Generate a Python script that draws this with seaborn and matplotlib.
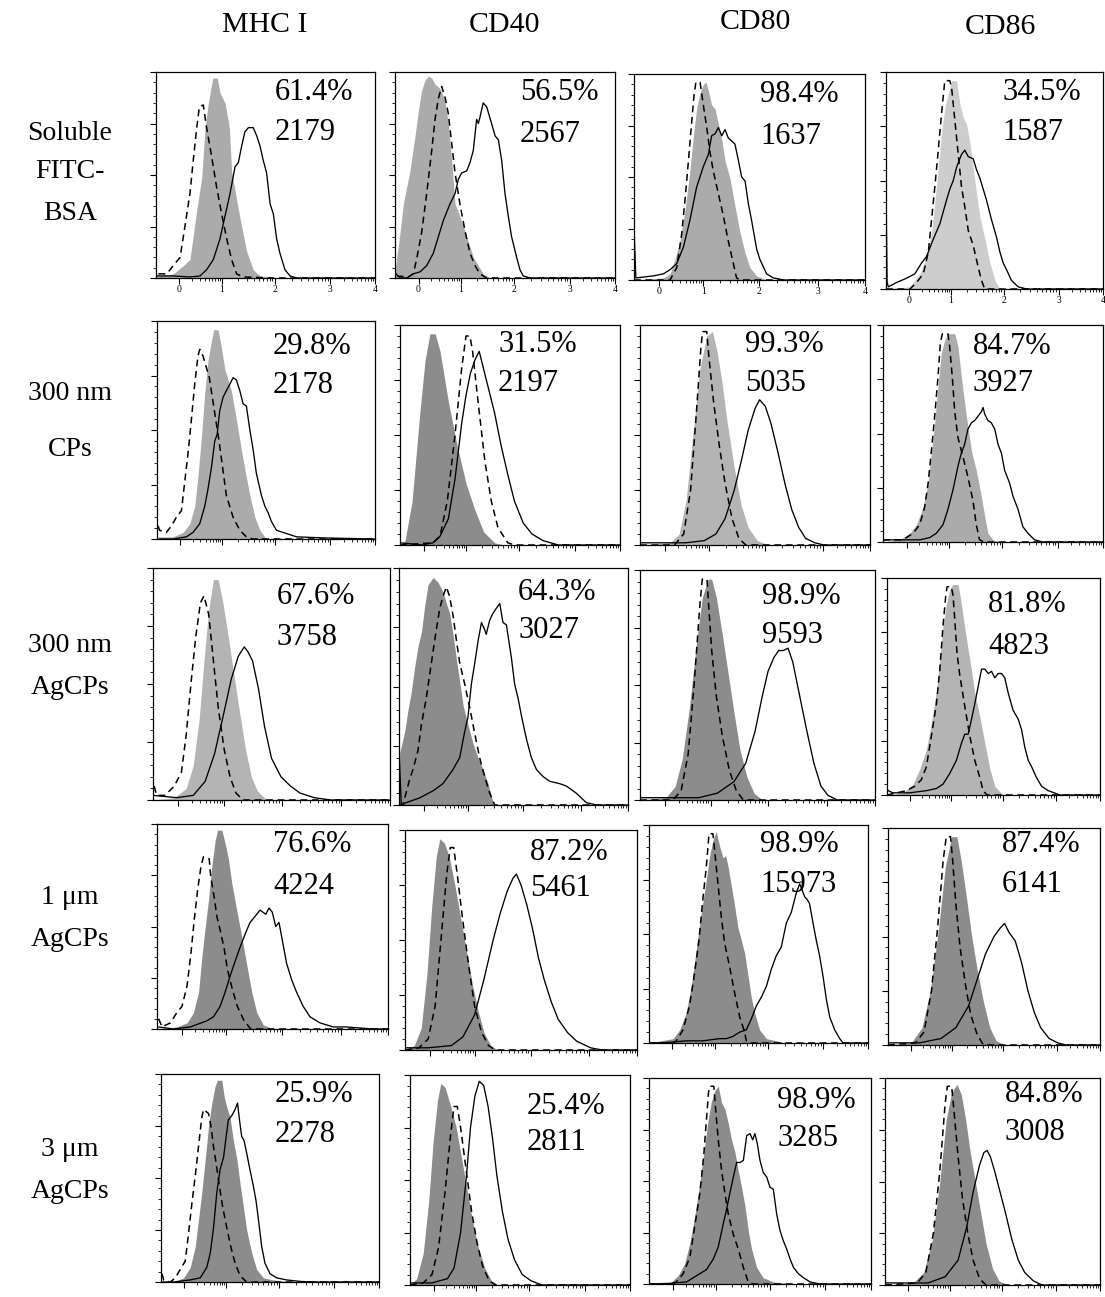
import numpy as np
import matplotlib
matplotlib.use("Agg")
import matplotlib.pyplot as plt
import seaborn as sns

sns.set_style("ticks")
plt.rcParams['font.family'] = ['Liberation Serif', 'DejaVu Serif']
plt.rcParams['text.color'] = 'black'

# ---------------- labels ----------------
markers = ["MHC I", "CD40", "CD80", "CD86"]
groups = [["Soluble", "FITC-", "BSA"], ["300 nm", "CPs"], ["300 nm", "AgCPs"],
          ["1 μm", "AgCPs"], ["3 μm", "AgCPs"]]
pct = [[61.4, 56.5, 98.4, 34.5],
       [29.8, 31.5, 99.3, 84.7],
       [67.6, 64.3, 98.9, 81.8],
       [76.6, 87.2, 98.9, 87.4],
       [25.9, 25.4, 98.9, 84.8]]
mfi = [[2179, 2567, 1637, 1587],
       [2178, 2197, 5035, 3927],
       [3758, 3027, 9593, 4823],
       [4224, 5461, 15973, 6141],
       [2278, 2811, 3285, 3008]]

# ---------------- histogram data: (channel 0-1000, % of max) ----------------
# fill = grey filled histogram, dash = dashed histogram, line = solid histogram
R1C1_fill = [(0,1),(18,1),(79,2),(125,6),(155,9),(186,33),(209,49),(224,73),(239,85),(259,97),(280,97),(292,90),(315,85),(335,73),(345,52),(368,38),(391,25),(414,13),(444,4),(475,1),(536,0),(1000,0)]
R1C1_dash = [(11,2),(49,2),(79,6),(110,10),(132,25),(155,41),(170,57),(186,73),(198,83),(216,84),(231,73),(254,59),(277,44),(300,31),(323,19),(345,9),(368,2),(399,0.5),(536,0),(1000,0)]
R1C1_line = [(0,4),(3,1),(79,1),(155,0.5),(201,1),(231,4),(262,9),(292,19),(315,30),(338,41),(361,54),(376,56),(391,64),(406,71),(422,73),(444,73),(460,69),(475,64),(490,57),(505,51),(521,36),(536,31),(551,19),(566,12),(589,4),(612,1),(642,0),(1000,0)]

R1C2_fill = [(0,2),(10,12),(15,15),(38,36),(68,52),(91,69),(106,81),(121,91),(136,96),(152,98),(167,97),(182,94),(205,92),(227,86),(242,75),(258,57),(273,36),(295,30),(326,20),(356,10),(379,6),(401,2),(432,0),(1000,0)]
R1C2_dash = [(8,1),(60,0.5),(83,2),(98,9),(121,22),(144,41),(167,62),(182,77),(197,87),(212,93),(227,88),(242,80),(258,65),(273,51),(295,36),(318,23),(341,12),(364,6),(386,2),(417,0),(1000,0)]
R1C2_line = [(0,3),(5,2),(23,0),(53,0),(83,2),(114,3),(144,6),(174,12),(197,20),(220,28),(250,36),(273,41),(288,48),(303,51),(326,52),(341,56),(356,62),(371,77),(379,75),(386,78),(401,85),(417,83),(439,75),(455,69),(470,67),(485,57),(500,41),(515,30),(530,20),(553,10),(568,4),(583,1),(614,0),(1000,0)]

R1C3_fill = [(0,0),(127,1),(156,3),(177,10),(199,19),(221,34),(242,53),(257,70),(271,83),(286,91),(300,95),(312,96),(322,92),(336,85),(351,83),(365,76),(380,68),(394,58),(416,49),(437,36),(459,23),(481,13),(502,6),(531,2),(574,0),(1000,0)]
R1C3_dash = [(0,0),(156,0),(185,6),(206,22),(221,39),(235,57),(250,77),(260,90),(268,96),(286,96),(300,85),(315,74),(329,62),(343,53),(365,42),(387,31),(408,19),(430,8),(444,1),(460,0),(1000,0)]
R1C3_line = [(0,26),(8,1),(84,2),(127,3),(156,5),(185,8),(214,16),(242,29),(271,45),(300,55),(322,61),(336,70),(351,71),(365,74),(380,70),(394,73),(408,69),(437,66),(452,58),(466,50),(481,48),(495,37),(509,29),(531,15),(545,10),(574,3),(603,1),(650,0),(1000,0)]

R1C4_fill = [(0,0),(110,1),(156,7),(187,15),(210,26),(225,40),(241,56),(256,72),(272,84),(287,90),(302,96),(325,96),(341,85),(356,79),(371,76),(387,67),(402,56),(417,44),(433,33),(456,23),(479,12),(502,4),(525,0),(1000,0)]
R1C4_dash = [(0,0),(110,0),(141,3),(172,7),(195,17),(210,32),(225,47),(241,64),(256,81),(271,96),(294,96),(302,93),(317,78),(333,62),(348,47),(363,38),(379,27),(402,20),(425,10),(440,4),(455,0),(1000,0)]
R1C4_line = [(0,47),(5,3),(11,1),(49,3),(95,5),(133,7),(164,12),(187,15),(218,23),(248,30),(279,41),(294,46),(310,50),(325,56),(340,60),(348,62),(363,64),(379,61),(402,60),(417,55),(433,51),(448,46),(463,41),(486,32),(509,24),(525,17),(540,12),(555,9),(578,4),(609,1),(647,0),(1000,0)]

R2C1_fill = [(0,1),(73,1),(119,3),(150,7),(173,15),(188,29),(204,47),(219,67),(234,82),(250,91),(260,96),(280,96),(295,88),(311,78),(326,73),(341,68),(357,59),(372,50),(387,41),(403,32),(426,20),(449,10),(472,4),(502,0),(1000,0)]
R2C1_dash = [(5,6),(12,4),(43,3),(66,6),(89,10),(112,13),(127,26),(142,39),(158,55),(173,71),(188,84),(196,87),(211,84),(240,74),(263,59),(286,44),(302,32),(318,20),(349,10),(380,4),(410,1),(440,0),(1000,0)]
R2C1_line = [(12,0),(73,0),(135,1),(165,3),(196,7),(219,15),(234,23),(250,33),(265,45),(276,48),(288,59),(303,65),(318,68),(334,71),(349,74),(364,73),(380,68),(395,62),(410,61),(426,50),(441,41),(456,30),(479,20),(495,15),(510,12),(525,8),(548,4),(579,3),(640,1),(762,0.5),(1000,0)]

R2C2_fill = [(0,0),(23,2),(55,20),(90,60),(114,84),(136,96),(160,96),(182,88),(220,65),(260,45),(300,28),(340,16),(380,6),(430,1),(470,0),(1000,0)]
R2C2_dash = [(0,0),(150,1),(182,4),(215,20),(250,50),(280,80),(300,95),(318,95),(330,88),(355,65),(386,38),(415,20),(445,8),(490,1),(520,0),(1000,0)]
R2C2_line = [(0,1),(100,0),(150,1),(182,4),(220,12),(250,30),(280,55),(300,68),(320,78),(340,84),(360,88),(380,80),(400,72),(430,60),(460,45),(490,32),(520,20),(560,10),(600,5),(650,2),(720,0),(1000,0)]

R2C3_fill = [(0,0),(130,1),(170,5),(200,20),(230,50),(260,80),(290,95),(315,97),(335,88),(355,75),(380,55),(410,35),(440,18),(470,8),(510,2),(560,0),(1000,0)]
R2C3_dash = [(0,0),(150,0),(190,5),(220,25),(245,60),(265,90),(272,97),(290,97),(300,85),(320,65),(345,45),(370,28),(400,12),(430,3),(460,0),(1000,0)]
R2C3_line = [(0,1),(200,1),(280,2),(330,5),(370,12),(410,25),(440,38),(470,52),(500,62),(520,66),(545,63),(570,55),(600,42),(630,28),(660,16),(690,8),(720,3),(760,1),(800,0),(1000,0)]

R2C4_fill = [(0,0),(76,1),(121,4),(152,8),(182,16),(205,27),(220,41),(235,55),(250,72),(265,87),(280,93),(295,96),(326,96),(341,90),(356,76),(379,58),(402,42),(424,33),(447,21),(462,12),(477,4),(500,1),(530,0),(1000,0)]
R2C4_dash = [(0,1),(91,1),(136,4),(167,8),(189,16),(205,27),(220,42),(235,58),(250,76),(261,92),(270,96),(295,96),(303,90),(315,76),(326,60),(341,48),(364,39),(386,30),(409,19),(424,8),(439,1),(460,0),(1000,0)]
R2C4_line = [(0,1),(167,1),(212,2),(242,4),(273,8),(295,15),(318,24),(341,35),(356,41),(371,45),(386,52),(402,55),(417,56),(432,58),(447,60),(455,62),(462,59),(477,56),(492,55),(508,52),(523,45),(538,41),(553,33),(576,27),(591,21),(614,15),(636,7),(659,4),(689,1),(727,0),(1000,0)]

R3C1_fill = [(0,0),(90,1),(140,5),(170,15),(195,35),(215,60),(235,82),(255,95),(275,95),(295,85),(315,72),(340,55),(365,38),(390,22),(415,10),(440,4),(480,0),(1000,0)]
R3C1_dash = [(5,6),(15,2),(50,2),(90,6),(120,12),(140,28),(160,50),(180,70),(200,85),(215,88),(235,80),(255,60),(275,40),(300,22),(325,10),(350,3),(380,0),(1000,0)]
R3C1_line = [(0,2),(100,1),(170,2),(220,8),(260,20),(300,38),(330,52),(360,62),(385,66),(400,64),(420,60),(445,48),(470,32),(500,18),(540,10),(580,6),(620,3),(680,1),(750,0),(1000,0)]

R3C2_fill = [(0,0),(3,22),(25,31),(39,40),(54,48),(68,58),(83,67),(98,73),(112,84),(127,93),(149,96),(170,94),(192,90),(207,85),(221,81),(236,72),(250,62),(265,52),(280,42),(301,34),(323,26),(345,20),(367,15),(389,9),(411,1),(418,0),(1000,0)]
R3C2_dash = [(0,0),(17,0),(47,11),(61,15),(83,23),(98,34),(119,45),(134,55),(149,65),(163,74),(178,83),(192,88),(207,92),(221,88),(236,80),(250,70),(265,60),(287,51),(309,41),(331,30),(352,20),(374,12),(396,5),(418,0),(1000,0)]
R3C2_line = [(0,23),(10,0),(32,1),(90,3),(149,6),(192,9),(236,15),(265,20),(287,31),(301,37),(316,51),(331,60),(345,69),(360,77),(374,74),(381,72),(396,78),(411,81),(425,83),(440,85),(454,77),(469,76),(491,62),(505,51),(520,45),(534,38),(556,28),(578,20),(600,15),(629,12),(658,10),(702,9),(731,8),(774,5),(818,1),(862,0),(1000,0)]

R3C3_fill = [(0,0),(110,1),(150,6),(180,18),(210,40),(240,68),(265,88),(290,96),(305,96),(325,88),(350,72),(375,55),(400,38),(425,22),(455,10),(485,3),(520,0),(1000,0)]
R3C3_dash = [(0,0),(140,0),(175,4),(205,20),(230,50),(255,85),(265,96),(285,96),(292,85),(305,65),(325,45),(350,28),(380,13),(410,4),(440,0),(1000,0)]
R3C3_line = [(0,1),(250,1),(330,3),(400,8),(450,16),(490,30),(520,45),(545,56),(570,62),(590,65),(610,65),(630,66),(650,60),(680,45),(710,30),(740,16),(770,6),(800,2),(840,0),(1000,0)]

R3C4_fill = [(0,0),(75,1),(122,5),(154,12),(185,21),(208,33),(232,48),(248,62),(263,78),(279,88),(295,95),(310,97),(334,97),(349,88),(365,77),(381,67),(396,58),(412,47),(436,36),(459,24),(483,12),(506,4),(545,0),(1000,0)]
R3C4_dash = [(0,0),(91,2),(130,4),(161,7),(185,13),(208,27),(232,42),(248,58),(263,78),(276,92),(282,96),(302,96),(310,92),(318,81),(329,65),(342,55),(365,41),(389,27),(412,16),(436,8),(451,2),(470,0),(1000,0)]
R3C4_line = [(0,3),(5,2),(28,1),(107,1),(185,2),(232,3),(263,5),(295,10),(326,16),(350,24),(365,28),(381,28),(397,35),(412,42),(428,50),(444,58),(459,58),(475,56),(491,57),(506,54),(522,56),(538,56),(553,54),(569,47),(592,39),(616,35),(632,30),(647,22),(663,16),(679,13),(702,8),(726,4),(757,2),(812,0),(1000,0)]

R4C1_fill = [(0,0),(86,1),(130,3),(158,8),(180,18),(194,35),(209,50),(223,63),(237,79),(252,92),(262,97),(281,97),(298,89),(309,83),(324,71),(345,58),(367,45),(389,31),(410,18),(432,8),(460,2),(504,0),(1000,0)]
R4C1_dash = [(7,5),(22,1),(58,3),(86,8),(108,11),(130,21),(147,37),(161,53),(176,68),(190,79),(201,84),(226,83),(233,74),(248,64),(259,55),(276,47),(291,39),(305,29),(327,19),(348,11),(377,4),(406,0),(1000,0)]
R4C1_line = [(7,1),(72,0),(144,1),(216,4),(245,6),(273,11),(295,18),(317,26),(341,34),(360,40),(384,47),(403,52),(425,55),(446,58),(471,56),(485,59),(499,57),(514,50),(528,52),(543,43),(561,32),(583,24),(604,18),(633,11),(662,6),(705,3),(763,1),(820,1),(935,0),(1000,0)]

R4C2_fill = [(0,0),(40,2),(70,10),(95,35),(115,65),(135,88),(150,96),(170,94),(190,88),(215,75),(240,60),(265,45),(290,30),(315,18),(340,8),(370,2),(400,0),(1000,0)]
R4C2_dash = [(0,0),(60,1),(100,5),(130,20),(155,50),(180,80),(195,92),(210,92),(225,80),(250,58),(275,38),(300,20),(330,8),(360,2),(390,0),(1000,0)]
R4C2_line = [(0,1),(100,1),(200,2),(250,6),(300,16),(340,32),(380,50),(410,62),(440,72),(465,78),(480,80),(500,75),(525,66),(550,55),(575,42),(600,32),(630,22),(660,14),(700,8),(740,4),(800,1),(850,0),(1000,0)]

R4C3_fill = [(0,0),(110,2),(140,6),(170,14),(193,26),(216,43),(239,60),(262,75),(277,86),(292,93),(307,97),(323,90),(338,85),(350,86),(361,81),(376,72),(391,63),(406,53),(422,47),(437,41),(452,31),(467,21),(482,14),(505,6),(536,2),(581,1),(620,0),(1000,0)]
R4C3_dash = [(0,0),(110,0),(125,1),(155,6),(185,17),(208,32),(228,47),(246,66),(262,81),(274,96),(292,96),(300,88),(315,73),(330,58),(345,46),(368,35),(391,23),(414,12),(437,5),(444,1),(460,0),(1000,0)]
R4C3_line = [(3,0),(94,0.3),(170,1),(246,1),(323,2),(353,2),(383,3),(414,5),(444,6),(467,11),(490,17),(513,21),(536,26),(559,34),(581,40),(604,44),(627,55),(650,60),(673,69),(688,73),(700,70),(711,67),(721,66),(733,64),(749,55),(764,47),(779,40),(794,31),(810,20),(825,12),(848,6),(871,2),(886,0),(1000,0)]

R4C4_fill = [(0,0),(110,1),(160,8),(200,25),(240,55),(270,82),(300,96),(325,96),(345,85),(370,68),(395,50),(420,35),(450,20),(480,8),(510,2),(550,0),(1000,0)]
R4C4_dash = [(0,0),(130,1),(170,6),(205,25),(235,55),(260,85),(275,96),(295,96),(305,85),(320,65),(340,45),(365,28),(390,14),(420,5),(450,0),(1000,0)]
R4C4_line = [(0,1),(150,1),(250,3),(320,8),(380,18),(420,30),(460,42),(500,50),(530,54),(550,56),(570,52),(600,48),(630,38),(660,25),(690,15),(720,8),(760,3),(800,1),(840,0),(1000,0)]

R5C1_fill = [(0,0),(58,0),(104,2),(134,7),(157,17),(172,30),(187,43),(203,59),(218,75),(233,86),(248,94),(259,97),(279,97),(290,89),(302,84),(317,79),(332,68),(348,59),(363,47),(378,36),(393,25),(416,14),(439,6),(470,2),(515,1),(591,0),(1000,0)]
R5C1_dash = [(5,4),(12,1),(43,0),(66,2),(88,6),(111,10),(126,23),(142,38),(157,51),(172,65),(187,79),(195,83),(218,81),(229,75),(241,65),(253,57),(268,46),(283,36),(302,26),(320,17),(340,9),(363,3),(393,0),(1000,0)]
R5C1_line = [(0,0),(58,0),(134,1),(180,2),(210,7),(226,14),(241,26),(256,43),(271,54),(287,60),(299,70),(309,78),(325,80),(340,83),(351,86),(360,78),(370,70),(381,68),(393,62),(408,54),(424,46),(436,39),(447,30),(462,17),(477,9),(500,4),(530,2),(576,1),(637,0.3),(698,0),(1000,0)]

R5C2_fill = [(0,0),(30,3),(60,15),(85,40),(105,68),(125,88),(140,96),(160,94),(185,85),(210,75),(235,60),(260,45),(285,30),(310,18),(340,8),(370,2),(400,0),(1000,0)]
R5C2_dash = [(0,0),(60,1),(100,5),(130,18),(160,45),(185,72),(200,85),(215,85),(230,75),(255,55),(280,35),(305,20),(330,9),(360,2),(390,0),(1000,0)]
R5C2_line = [(0,1),(100,1),(170,3),(200,8),(230,25),(255,50),(275,75),(295,90),(315,97),(335,95),(355,85),(375,70),(395,52),(420,35),(445,22),(475,12),(510,5),(550,2),(600,0),(1000,0)]

R5C3_fill = [(0,0),(93,0.3),(131,4),(161,10),(184,20),(206,33),(229,49),(251,67),(267,80),(282,89),(297,94),(312,96),(327,88),(342,85),(357,78),(372,70),(387,64),(402,55),(417,47),(432,38),(447,26),(462,17),(485,8),(515,3),(560,1),(651,0),(1000,0)]
R5C3_dash = [(0,0),(100,0),(123,1),(154,5),(184,13),(206,28),(229,44),(247,63),(259,80),(268,93),(274,96),(292,96),(300,85),(312,70),(327,55),(342,44),(357,34),(380,24),(402,17),(425,8),(447,1),(470,0),(1000,0)]
R5C3_line = [(0,0),(93,0.3),(169,1),(214,4),(259,7),(289,12),(312,18),(334,29),(349,36),(364,44),(380,52),(395,59),(410,59),(425,60),(440,72),(455,73),(467,70),(477,73),(488,68),(500,60),(515,54),(530,52),(545,47),(560,46),(575,34),(590,26),(605,21),(620,17),(636,12),(651,8),(673,5),(696,3),(726,1),(771,0),(1000,0)]

R5C4_fill = [(0,0),(130,1),(180,6),(220,22),(255,50),(285,80),(310,93),(335,97),(355,92),(375,80),(395,65),(420,50),(445,35),(470,20),(500,8),(530,2),(570,0),(1000,0)]
R5C4_dash = [(0,0),(150,1),(190,6),(225,25),(255,55),(280,88),(290,96),(310,96),(320,85),(340,62),(360,42),(385,25),(410,12),(440,3),(470,0),(1000,0)]
R5C4_line = [(0,1),(200,1),(280,4),(340,12),(380,28),(410,45),(440,58),(460,64),(475,65),(490,62),(510,55),(535,45),(560,35),(590,22),(620,12),(650,6),(690,2),(730,0),(1000,0)]

fills = [[R1C1_fill, R1C2_fill, R1C3_fill, R1C4_fill],
         [R2C1_fill, R2C2_fill, R2C3_fill, R2C4_fill],
         [R3C1_fill, R3C2_fill, R3C3_fill, R3C4_fill],
         [R4C1_fill, R4C2_fill, R4C3_fill, R4C4_fill],
         [R5C1_fill, R5C2_fill, R5C3_fill, R5C4_fill]]
dashes_ = [[R1C1_dash, R1C2_dash, R1C3_dash, R1C4_dash],
           [R2C1_dash, R2C2_dash, R2C3_dash, R2C4_dash],
           [R3C1_dash, R3C2_dash, R3C3_dash, R3C4_dash],
           [R4C1_dash, R4C2_dash, R4C3_dash, R4C4_dash],
           [R5C1_dash, R5C2_dash, R5C3_dash, R5C4_dash]]
lines_ = [[R1C1_line, R1C2_line, R1C3_line, R1C4_line],
          [R2C1_line, R2C2_line, R2C3_line, R2C4_line],
          [R3C1_line, R3C2_line, R3C3_line, R3C4_line],
          [R4C1_line, R4C2_line, R4C3_line, R4C4_line],
          [R5C1_line, R5C2_line, R5C3_line, R5C4_line]]

# ---------------- layout (pixels) ----------------
W, H = 1105, 1297
boxes = [[(156, 72, 375, 278), (395, 72, 615, 278), (634, 74, 865, 280), (886, 72, 1103, 289)],
         [(157, 321, 375, 539), (400, 325, 620, 545), (640, 325, 870, 545), (883, 325, 1103, 542)],
         [(153, 568, 390, 800), (399, 568, 628, 805), (640, 570, 875, 800), (887, 578, 1100, 795)],
         [(157, 824, 388, 1029), (405, 830, 637, 1050), (649, 825, 868, 1043), (888, 828, 1100, 1045)],
         [(161, 1074, 379, 1282), (410, 1075, 630, 1285), (649, 1078, 871, 1284), (885, 1078, 1100, 1285)]]
text_pos = [[(275, 92, 133), (520, 92, 134), (760, 95, 136), (1002, 93, 133)],
            [(273, 346, 386), (498, 345, 383), (745, 345, 383), (973, 346, 384)],
            [(277, 597, 637), (518, 592, 630), (762, 597, 635), (988, 605, 646)],
            [(273, 845, 887), (530, 852, 888), (760, 844, 884), (1002, 845, 885)],
            [(275, 1095, 1134), (527, 1106, 1142), (777, 1100, 1138), (1005, 1095, 1133)]]
MED, LIGHT, DARK, MLIGHT = "#ababab", "#cdcdcd", "#8c8c8c", "#b4b4b4"
fill_colors = [[MED, MED, MED, LIGHT],
               [MED, DARK, MLIGHT, MED],
               [MLIGHT, DARK, DARK, MLIGHT],
               [DARK, DARK, DARK, DARK],
               [DARK, DARK, DARK, DARK]]
header_pos = [(265, 25), (505, 25), (755, 22), (1000, 27)]
rowlabel_y = [[133, 172, 213], [393, 450], [645, 687], [897, 940], [1150, 1192]]

major_ch = [107, 300, 543, 795, 1000]
minor_ch = []
for a, b in zip(major_ch[:-1], major_ch[1:]):
    for k in range(2, 10):
        minor_ch.append(a + (b - a) * np.log10(k))

fig = plt.figure(figsize=(W / 100, H / 100), dpi=100)

for r in range(5):
    for c in range(4):
        x0, y0, x1, y1 = boxes[r][c]
        ax = fig.add_axes([x0 / W, 1 - y1 / H, (x1 - x0) / W, (y1 - y0) / H])
        f = np.array(fills[r][c], dtype=float)
        d = np.array(dashes_[r][c], dtype=float)
        l = np.array(lines_[r][c], dtype=float)
        ax.fill_between(f[:, 0], f[:, 1], 0, color=fill_colors[r][c], lw=0, zorder=1)
        sns.lineplot(x=d[:, 0], y=d[:, 1], ax=ax, color="black", lw=1.1, sort=False,
                     estimator=None, zorder=3)
        ax.lines[-1].set_dashes((4.5, 3))
        sns.lineplot(x=l[:, 0], y=l[:, 1], ax=ax, color="black", lw=0.95, sort=False,
                     estimator=None, zorder=4)
        ax.set_xlim(0, 1000)
        ax.set_ylim(0, 100)
        ax.set_xticks(major_ch)
        ax.set_xticks(minor_ch, minor=True)
        ax.set_yticks([0, 25, 50, 75, 100])
        ax.set_yticks(np.arange(0, 101, 5), minor=True)
        if r == 0:
            ax.set_xticklabels(["0", "1", "2", "3", "4"], fontsize=7)
        else:
            ax.set_xticklabels([])
        ax.set_yticklabels([])
        ax.tick_params(which="major", length=4, width=0.8, direction="out", pad=1,
                       colors="black")
        ax.tick_params(which="minor", length=2.5, width=0.6, direction="out",
                       colors="black")
        for s in ax.spines.values():
            s.set_visible(True)
            s.set_linewidth(0.9)
            s.set_color("black")
        ax.set_xlabel("")
        ax.set_ylabel("")
        tx, ty1, ty2 = text_pos[r][c]
        fig.text(tx / W, 1 - ty1 / H, f"{pct[r][c]:.1f}%", fontsize=22,
                 ha="left", va="center", color="black", zorder=10)
        fig.text(tx / W, 1 - ty2 / H, f"{mfi[r][c]}", fontsize=22,
                 ha="left", va="center", color="black", zorder=10)

for c in range(4):
    hx, hy = header_pos[c]
    fig.text(hx / W, 1 - hy / H, markers[c], fontsize=21.5, ha="center", va="center",
             color="black")

for r in range(5):
    for s, yy in zip(groups[r], rowlabel_y[r]):
        fig.text(70 / W, 1 - yy / H, s, fontsize=20, ha="center", va="center",
                 color="black")

fig.savefig("out.png", dpi=100)
